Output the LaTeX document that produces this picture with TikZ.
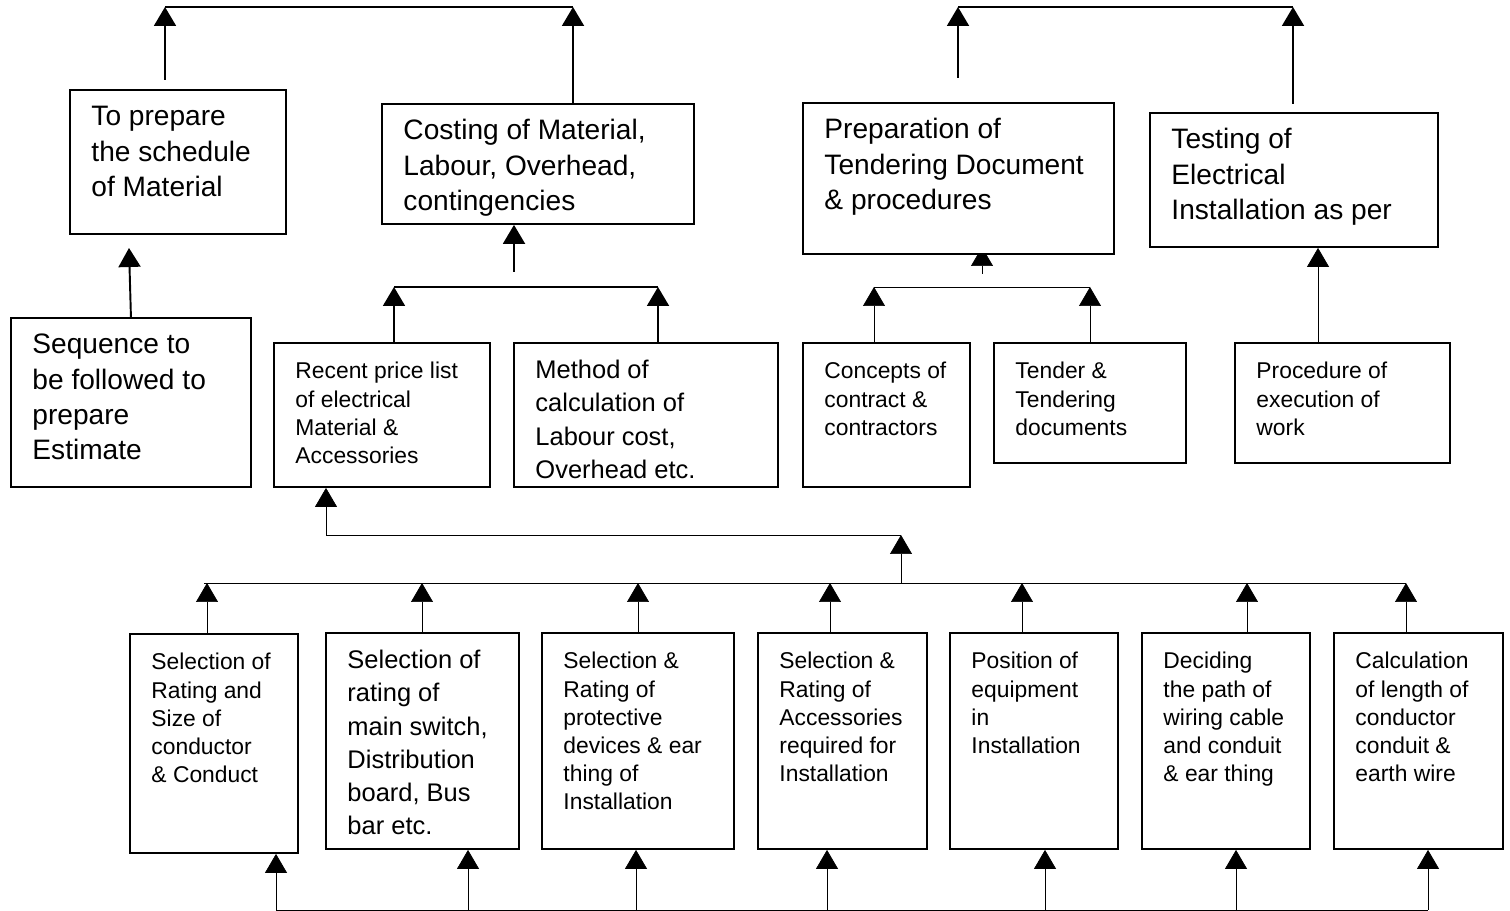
\documentclass[tikz,border=0pt]{standalone}
\usepackage{fontspec}
\setmainfont{Liberation Sans}
\usetikzlibrary{arrows.meta,positioning,backgrounds}

\newcommand{\boxtext}[3]{\parbox[t][#2][t]{#1}{\raggedright\leftskip=0.43cm\rule{0pt}{0.72cm}#3}}

\begin{document}
\begin{tikzpicture}[x=0.02cm,y=-0.02cm,line width=1.1pt,
  box/.style={draw,fill=white,anchor=north west,inner sep=0pt},
  big/.style={font=\fontsize{16}{20}\selectfont},
  mid/.style={font=\fontsize{14.5}{18.8}\selectfont},
  small/.style={font=\fontsize{13}{16}\selectfont},
  up/.style={-{Triangle[width=0.44cm,length=0.38cm]}}]

  \useasboundingbox (0,0) rectangle (1510,911);

  \node[box,big] (mat) at (69,89) {\boxtext{4.32cm}{2.88cm}{To prepare\\the schedule\\of Material}};
  \node[box,big] (cost) at (381,103) {\boxtext{6.24cm}{2.40cm}{Costing of Material,\\Labour, Overhead,\\contingencies}};
  \node[box,big] (tdr) at (802,102) {\boxtext{6.22cm}{3.02cm}{Preparation of\\Tendering Document\\\& procedures}};
  \node[box,big] (test) at (1149,112) {\boxtext{5.76cm}{2.68cm}{Testing of\\Electrical\\Installation as per}};

  \node[box,big] (seq) at (10,317) {\boxtext{4.80cm}{3.38cm}{Sequence to\\be followed to\\prepare\\Estimate}};
  \node[box,small] (price) at (273,342) {\boxtext{4.32cm}{2.88cm}{Recent price list\\of electrical\\Material \&\\Accessories}};
  \node[box,mid] (labour) at (513,342) {\boxtext{5.28cm}{2.88cm}{Method of\\calculation of\\Labour cost,\\Overhead etc.}};
  \node[box,small] (contract) at (802,342) {\boxtext{3.34cm}{2.88cm}{Concepts of\\contract \&\\contractors}};
  \node[box,small] (tdoc) at (993,342) {\boxtext{3.84cm}{2.40cm}{Tender \&\\Tendering\\documents}};
  \node[box,small] (exec) at (1234,342) {\boxtext{4.30cm}{2.40cm}{Procedure of\\execution of\\work}};

  \node[box,small] (s1) at (129,633) {\boxtext{3.36cm}{4.38cm}{Selection of\\Rating and\\Size of\\conductor\\\& Conduct}};
  \node[box,mid] (s2) at (325,632) {\boxtext{3.86cm}{4.32cm}{Selection of\\rating of\\main switch,\\Distribution\\board, Bus\\bar etc.}};
  \node[box,small] (s3) at (541,632) {\boxtext{3.84cm}{4.32cm}{Selection \&\\Rating of\\protective\\devices \& ear\\thing of\\Installation}};
  \node[box,small] (s4) at (757,632) {\boxtext{3.38cm}{4.32cm}{Selection \&\\Rating of\\Accessories\\required for\\Installation}};
  \node[box,small] (s5) at (949,632) {\boxtext{3.36cm}{4.32cm}{Position of\\equipment\\in\\Installation}};
  \node[box,small] (s6) at (1141,632) {\boxtext{3.36cm}{4.32cm}{Deciding\\the path of\\wiring cable\\and conduit\\\& ear thing}};
  \node[box,small] (s7) at (1333,632) {\boxtext{3.38cm}{4.32cm}{Calculation\\of length of\\conductor\\conduit \&\\earth wire}};

  \coordinate (t1) at (165,7);
  \coordinate (t2) at (573,7);
  \coordinate (t3) at (958,7);
  \coordinate (t4) at (1293,7);
  \coordinate (m0) at (165,80);
  \coordinate (p0) at (958,78);
  \coordinate (q0) at (1293,104);
  \draw (t1) -- (t2);
  \draw (t3) -- (t4);
  \draw[up] (m0) -- (t1);
  \draw[up] (cost.north -| t2) -- (t2);
  \draw[up] (p0) -- (t3);
  \draw[up] (q0) -- (t4);

  \coordinate (m1) at (129,248);
  \draw[up] (seq.north) -- (m1);

  \coordinate (c0) at (514,272);
  \coordinate (c1) at (394,287);
  \coordinate (c2) at (658,287);
  \draw[up] (c0) -- (c0 |- cost.south);
  \draw (c1) -- (c2);
  \draw[up] (c1 |- price.north) -- (c1);
  \draw[up] (c2 |- labour.north) -- (c2);

  \coordinate (d0) at (982,274);
  \coordinate (d3) at (982,247);
  \coordinate (d1) at (874,287);
  \coordinate (d2) at (1090,287);
  \begin{pgfonlayer}{background}
    \draw[up] (d0) -- (d3);
  \end{pgfonlayer}
  \draw (d1) -- (d2);
  \draw[up] (d1 |- contract.north) -- (d1);
  \draw[up] (d2 |- tdoc.north) -- (d2);

  \coordinate (e0) at (1318,342);
  \draw[up] (e0) -- (e0 |- test.south);

  \coordinate (r0) at (326,535);
  \coordinate (r1) at (901,535);
  \coordinate (b0) at (204,583);
  \coordinate (b1) at (1406,583);
  \draw (r0) -- (r1);
  \draw[up] (r0) -- (r0 |- price.south);
  \draw (b0) -- (b1);
  \draw[up] (r1 |- b0) -- (r1);

  \coordinate (u1) at (207,583);
  \coordinate (u2) at (422,583);
  \coordinate (u3) at (638,583);
  \coordinate (u4) at (830,583);
  \coordinate (u5) at (1022,583);
  \coordinate (u6) at (1247,583);
  \coordinate (u7) at (1406,583);
  \draw[up] (u1 |- s1.north) -- (u1);
  \draw[up] (u2 |- s2.north) -- (u2);
  \draw[up] (u3 |- s3.north) -- (u3);
  \draw[up] (u4 |- s4.north) -- (u4);
  \draw[up] (u5 |- s5.north) -- (u5);
  \draw[up] (u6 |- s6.north) -- (u6);
  \draw[up] (u7 |- s7.north) -- (u7);

  \coordinate (v1) at (276,910);
  \coordinate (v2) at (468,910);
  \coordinate (v3) at (636,910);
  \coordinate (v4) at (827,910);
  \coordinate (v5) at (1045,910);
  \coordinate (v6) at (1236,910);
  \coordinate (v7) at (1428,910);
  \draw (v1) -- (v7);
  \draw[up] (v1) -- (v1 |- s1.south);
  \draw[up] (v2) -- (v2 |- s2.south);
  \draw[up] (v3) -- (v3 |- s3.south);
  \draw[up] (v4) -- (v4 |- s4.south);
  \draw[up] (v5) -- (v5 |- s5.south);
  \draw[up] (v6) -- (v6 |- s6.south);
  \draw[up] (v7) -- (v7 |- s7.south);
\end{tikzpicture}
\end{document}
